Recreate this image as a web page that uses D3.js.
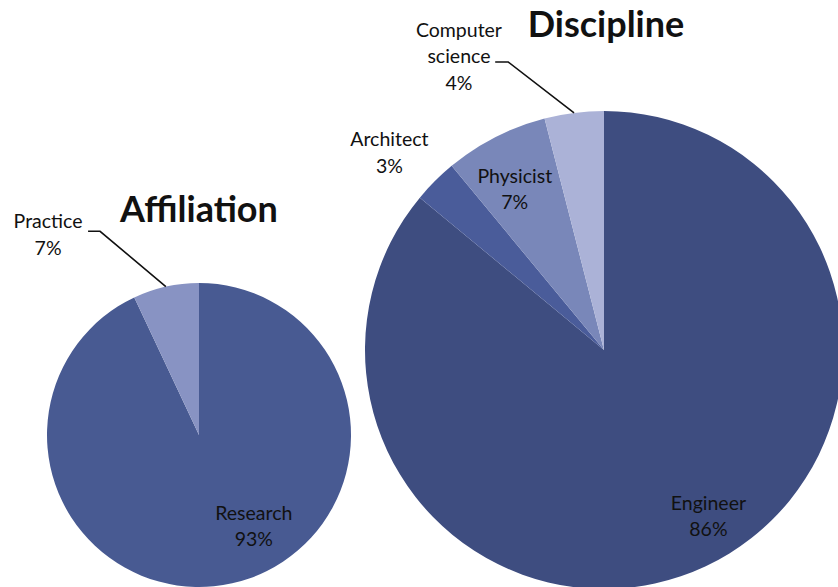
<!DOCTYPE html>
<html>
<head>
<meta charset="utf-8">
<script src="https://cdn.jsdelivr.net/npm/d3@7"></script>
<style>
  body { margin: 0; background: #fff; }
  text { font-family: Lato, "Open Sans", sans-serif; fill: #111; }
</style>
</head>
<body>
<div id="chart"></div>
<script>
// data
var affCategories = ["Research", "Practice"];
var affValues = [93, 7];
var discCategories = ["Engineer", "Architect", "Physicist", "Computer science"];
var discValues = [86, 3, 7, 4];

var affColors = ["#485a92", "#8893c3"];
var discColors = ["#3e4d80", "#4a5c9a", "#7987b9", "#abb2d7"];

var width = 838, height = 587;
var svg = d3.select("#chart").append("svg")
  .attr("width", width).attr("height", height);

// label placement: angle (deg, clockwise from top), radius fraction
var affLabels = [
  {a: 149, r: 0.70, lines: ["Research", "93%"]},
  {a: -37, r: 1.65, lines: ["Practice", "7%"], leader: {a: -25.9, r: 1.49, dx: -12}}
];
var discLabels = [
  {a: 147.8, r: 0.82, lines: ["Engineer", "86%"]},
  {a: -47.4, r: 1.22, lines: ["Architect", "3%"]},
  {a: -29, r: 0.77, lines: ["Physicist", "7%"]},
  {a: -26.3, r: 1.37, lines: ["Computer", "science", "4%"], leader: {a: -18.4, r: 1.27, dx: -13}}
];

function polar(a, r) {
  var t = a * Math.PI / 180;
  return [Math.sin(t) * r, -Math.cos(t) * r];
}

function drawPie(cx, cy, radius, cats, vals, colors, labels, title, titlePos) {
  var pie = d3.pie().sort(null).value(function(d) { return d; });
  var arc = d3.arc().innerRadius(0).outerRadius(radius);
  var arcs = pie(vals);
  var g = svg.append("g").attr("transform", "translate(" + cx + "," + cy + ")");

  g.selectAll("path.slice").data(arcs).enter().append("path")
    .attr("class", "slice")
    .attr("d", arc)
    .attr("fill", function(d, i) { return colors[i]; });

  labels.forEach(function(lb, i) {
    var p = polar(lb.a, lb.r * radius);
    var n = lb.lines.length;
    var t = g.append("text")
      .attr("text-anchor", "middle")
      .attr("font-size", 19.5);
    lb.lines.forEach(function(s, k) {
      t.append("tspan")
        .attr("x", p[0])
        .attr("y", p[1] + (k - (n - 1) / 2) * 26.5 + 7)
        .text(s);
    });
    if (lb.leader) {
      var mid = (arcs[i].startAngle + arcs[i].endAngle) / 2 * 180 / Math.PI;
      var e = polar(mid, radius);
      var el = polar(lb.leader.a, lb.leader.r * radius);
      g.append("path")
        .attr("d", "M" + e[0] + "," + e[1] + "L" + el[0] + "," + el[1] + "l" + lb.leader.dx + ",0")
        .attr("fill", "none")
        .attr("stroke", "#111")
        .attr("stroke-width", 1.6);
    }
  });

  svg.append("text")
    .attr("x", titlePos[0]).attr("y", titlePos[1])
    .attr("text-anchor", "middle")
    .attr("font-size", 36)
    .attr("font-weight", "bold")
    .text(title);
}

drawPie(199, 435, 152, affCategories, affValues, affColors, affLabels, "Affiliation", [199, 222]);
drawPie(604, 350, 239, discCategories, discValues, discColors, discLabels, "Discipline", [606, 37]);
</script>
</body>
</html>
